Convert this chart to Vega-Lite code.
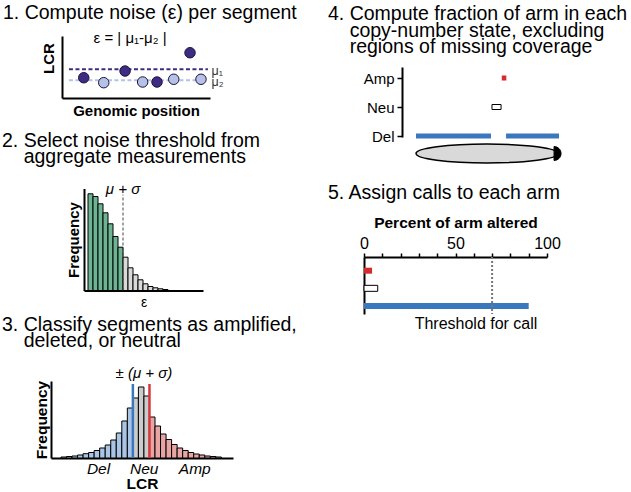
{
 "$schema": "https://vega.github.io/schema/vega-lite/v6.json",
 "padding": {"left": 2, "top": 3, "right": 0, "bottom": 0},
 "background": "white",
 "config": {
  "view": {"stroke": null},
  "font": "Liberation Sans",
  "title": {"font": "Liberation Sans", "fontSize": 19.5, "fontWeight": "normal", "color": "black", "anchor": "start", "frame": "group", "baseline": "bottom"},
  "axis": {"domainColor": "black", "tickColor": "black", "labelColor": "black", "titleColor": "black", "labelFont": "Liberation Sans", "titleFont": "Liberation Sans", "grid": false, "minExtent": 0},
  "text": {"font": "Liberation Sans", "color": "black"}
 },
 "datasets": {
  "p1pts": [
   {"pos": 14.7, "lcr": 3.27, "segment": "1"},
   {"pos": 42.6, "lcr": 4.35, "segment": "1"},
   {"pos": 64.2, "lcr": 2.58, "segment": "1"},
   {"pos": 86.5, "lcr": 7.3, "segment": "1"},
   {"pos": 28.2, "lcr": 2.47, "segment": "2"},
   {"pos": 54.5, "lcr": 2.58, "segment": "2"},
   {"pos": 75.5, "lcr": 3.02, "segment": "2"},
   {"pos": 93.9, "lcr": 3.02, "segment": "2"}
  ],
  "p1means": [
   {"segment": "1", "mean": 4.63, "start": 4.7, "end": 98.6, "label": "μ₁"},
   {"segment": "2", "mean": 2.85, "start": 4.7, "end": 96, "label": "μ₂"}
  ],
  "p2bins": [
   {"lo": 0.0, "hi": 0.1, "freq": 96.7, "side": "below"},
   {"lo": 0.1, "hi": 0.2, "freq": 94, "side": "below"},
   {"lo": 0.2, "hi": 0.3, "freq": 86.7, "side": "below"},
   {"lo": 0.3, "hi": 0.4, "freq": 77.7, "side": "below"},
   {"lo": 0.4, "hi": 0.5, "freq": 66.7, "side": "below"},
   {"lo": 0.5, "hi": 0.6, "freq": 54, "side": "below"},
   {"lo": 0.6, "hi": 0.7, "freq": 43.3, "side": "below"},
   {"lo": 0.7, "hi": 0.8, "freq": 33.3, "side": "above"},
   {"lo": 0.8, "hi": 0.9, "freq": 22.7, "side": "above"},
   {"lo": 0.9, "hi": 1.0, "freq": 15.7, "side": "above"},
   {"lo": 1.0, "hi": 1.1, "freq": 10.7, "side": "above"},
   {"lo": 1.1, "hi": 1.2, "freq": 6.7, "side": "above"},
   {"lo": 1.2, "hi": 1.3, "freq": 4, "side": "above"},
   {"lo": 1.3, "hi": 1.4, "freq": 2.7, "side": "above"},
   {"lo": 1.4, "hi": 1.5, "freq": 1.7, "side": "above"},
   {"lo": 1.5, "hi": 1.6, "freq": 1, "side": "above"}
  ],
  "p3bins": [
   {"lo": -1.45, "hi": -1.35, "freq": 1, "call": "Del"},
   {"lo": -1.35, "hi": -1.25, "freq": 1.5, "call": "Del"},
   {"lo": -1.25, "hi": -1.15, "freq": 2, "call": "Del"},
   {"lo": -1.15, "hi": -1.05, "freq": 3, "call": "Del"},
   {"lo": -1.05, "hi": -0.95, "freq": 4.3, "call": "Del"},
   {"lo": -0.95, "hi": -0.85, "freq": 5.5, "call": "Del"},
   {"lo": -0.85, "hi": -0.75, "freq": 7.5, "call": "Del"},
   {"lo": -0.75, "hi": -0.65, "freq": 10, "call": "Del"},
   {"lo": -0.65, "hi": -0.55, "freq": 13, "call": "Del"},
   {"lo": -0.55, "hi": -0.45, "freq": 18, "call": "Del"},
   {"lo": -0.45, "hi": -0.35, "freq": 25, "call": "Del"},
   {"lo": -0.35, "hi": -0.25, "freq": 37, "call": "Del"},
   {"lo": -0.25, "hi": -0.15, "freq": 50, "call": "Del"},
   {"lo": -0.15, "hi": -0.05, "freq": 60, "call": "Neu"},
   {"lo": -0.05, "hi": 0.05, "freq": 71, "call": "Neu"},
   {"lo": 0.05, "hi": 0.15, "freq": 62, "call": "Neu"},
   {"lo": 0.15, "hi": 0.25, "freq": 41, "call": "Amp"},
   {"lo": 0.25, "hi": 0.35, "freq": 32, "call": "Amp"},
   {"lo": 0.35, "hi": 0.45, "freq": 24, "call": "Amp"},
   {"lo": 0.45, "hi": 0.55, "freq": 18.5, "call": "Amp"},
   {"lo": 0.55, "hi": 0.65, "freq": 13.5, "call": "Amp"},
   {"lo": 0.65, "hi": 0.75, "freq": 10, "call": "Amp"},
   {"lo": 0.75, "hi": 0.85, "freq": 7.5, "call": "Amp"},
   {"lo": 0.85, "hi": 0.95, "freq": 5.5, "call": "Amp"},
   {"lo": 0.95, "hi": 1.05, "freq": 4, "call": "Amp"},
   {"lo": 1.05, "hi": 1.15, "freq": 3, "call": "Amp"},
   {"lo": 1.15, "hi": 1.25, "freq": 2, "call": "Amp"},
   {"lo": 1.25, "hi": 1.35, "freq": 1.5, "call": "Amp"},
   {"lo": 1.35, "hi": 1.45, "freq": 1, "call": "Amp"}
  ],
  "p3cuts": [
   {"call": "Del", "cut": -0.15},
   {"call": "Amp", "cut": 0.15}
  ],
  "p4segs": [
   {"state": "Del", "start": 0, "end": 52.8},
   {"state": "Del", "start": 63.4, "end": 100.7},
   {"state": "Neu", "start": 53.5, "end": 59.9},
   {"state": "Amp", "start": 60.4, "end": 63.6}
  ],
  "p5pct": [
   {"state": "Amp", "pct": 4.4},
   {"state": "Neu", "pct": 7.5},
   {"state": "Del", "pct": 90}
  ]
 },
 "bounds": "flush",
 "spacing": 313,
 "resolve": {"scale": {"color": "independent", "fill": "independent", "stroke": "independent"}},
 "hconcat": [
  {
   "bounds": "flush",
   "spacing": 90.5,
   "resolve": {"scale": {"color": "independent", "fill": "independent", "stroke": "independent"}},
   "vconcat": [
    {
     "width": 159, "height": 62,
     "title": {"text": "1. Compute noise (ε) per segment", "dx": -48, "offset": 7},
     "layer": [
      {
       "data": {"name": "p1means"},
       "mark": {"type": "rule", "strokeWidth": 2, "strokeDash": [4, 2.5]},
       "encoding": {
        "x": {"field": "start", "type": "quantitative", "scale": {"domain": [0, 100], "range": [11, 159], "nice": false, "zero": false},
              "axis": {"title": "Genomic position", "labels": false, "ticks": false, "domainWidth": 2, "titleFontSize": 15, "titleFontWeight": "bold", "titlePadding": 5}},
        "x2": {"field": "end"},
        "y": {"field": "mean", "type": "quantitative", "scale": {"domain": [0, 10], "nice": false},
              "axis": {"title": "LCR", "labels": false, "ticks": false, "domainWidth": 2, "offset": -11, "titleFontSize": 15, "titleFontWeight": "bold", "titlePadding": 6, "titleY": 22}},
        "color": {"field": "segment", "type": "nominal", "scale": {"domain": ["1", "2"], "range": ["#3d2c82", "#b5c1e6"]}, "legend": null}
       }
      },
      {
       "data": {"name": "p1means"},
       "mark": {"type": "text", "align": "left", "baseline": "middle", "dy": 2, "fontSize": 12.5, "color": "#333333"},
       "encoding": {
        "x": {"datum": 101},
        "y": {"field": "mean", "type": "quantitative"},
        "text": {"field": "label"}
       }
      },
      {
       "data": {"name": "p1pts"},
       "mark": {"type": "circle", "size": 110, "stroke": "#1c1440", "strokeWidth": 1, "opacity": 1},
       "encoding": {
        "x": {"field": "pos", "type": "quantitative"},
        "y": {"field": "lcr", "type": "quantitative"},
        "fill": {"field": "segment", "type": "nominal", "scale": {"domain": ["1", "2"], "range": ["#3d2c82", "#b5c1e6"]}, "legend": null}
       }
      },
      {
       "data": {"values": [{"note": "ε = | μ₁-μ₂ |"}]},
       "mark": {"type": "text", "fontSize": 15, "baseline": "middle"},
       "encoding": {
        "x": {"datum": 46},
        "y": {"datum": 9.7},
        "text": {"field": "note"}
       }
      }
     ]
    },
    {
     "width": 152, "height": 102,
     "title": {"text": ["2. Select noise threshold from", "\u200b\u00a0\u00a0\u00a0\u00a0aggregate measurements"], "dx": -49, "offset": 14.5, "lineHeight": 16},
     "layer": [
      {
       "data": {"name": "p2bins"},
       "mark": {"type": "rect", "stroke": "black", "strokeWidth": 1},
       "encoding": {
        "x": {"field": "lo", "type": "quantitative", "scale": {"domain": [-0.08, 2.3], "range": [33, 152], "nice": false, "zero": false},
              "axis": {"title": "ε", "labels": false, "ticks": false, "domainWidth": 2, "titleFontSize": 14, "titleFontWeight": "normal", "titlePadding": 5}},
        "x2": {"field": "hi"},
        "y": {"field": "freq", "type": "quantitative", "scale": {"domain": [0, 102], "nice": false},
              "axis": {"title": "Frequency", "labels": false, "ticks": false, "domainWidth": 2, "offset": -33, "titleFontSize": 15, "titleFontWeight": "bold", "titlePadding": 3}},
        "y2": {"datum": 0},
        "fill": {"field": "side", "type": "nominal", "scale": {"domain": ["below", "above"], "range": ["#6db592", "#d9d9d9"]}, "legend": null}
       }
      },
      {
       "data": {"values": [{"threshold": 0.7, "label": "μ + σ"}]},
       "mark": {"type": "rule", "strokeDash": [3, 2], "strokeWidth": 1, "color": "#444444"},
       "encoding": {
        "x": {"field": "threshold", "type": "quantitative"},
        "y": {"datum": 0},
        "y2": {"datum": 96}
       }
      },
      {
       "data": {"values": [{"threshold": 0.7, "label": "μ + σ"}]},
       "mark": {"type": "text", "fontSize": 15, "fontStyle": "italic", "baseline": "middle"},
       "encoding": {
        "x": {"field": "threshold", "type": "quantitative"},
        "y": {"datum": 101.5},
        "text": {"field": "label"}
       }
      }
     ]
    },
    {
     "width": 182, "height": 77,
     "title": {"text": ["3. Classify segments as amplified,", "\u200b\u00a0\u00a0\u00a0\u00a0deleted, or neutral"], "dx": -49, "offset": 14.5, "lineHeight": 16},
     "layer": [
      {
       "data": {"name": "p3bins"},
       "mark": {"type": "rect", "stroke": "black", "strokeWidth": 1},
       "encoding": {
        "x": {"field": "lo", "type": "quantitative", "scale": {"domain": [-1.63, 1.66], "nice": false, "zero": false},
              "axis": {"title": "LCR", "values": [-0.78, 0.045, 0.96], "labelExpr": "datum.value < -0.5 ? 'Del' : (datum.value > 0.5 ? 'Amp' : 'Neu')", "ticks": false, "labelFontStyle": "italic", "labelFontSize": 15.5, "labelPadding": 3, "labelFlush": false, "labelOverlap": false, "domainWidth": 2, "titleFontSize": 15.5, "titleFontWeight": "bold", "titlePadding": 0}},
        "x2": {"field": "hi"},
        "y": {"field": "freq", "type": "quantitative", "scale": {"domain": [0, 77], "nice": false},
              "axis": {"title": "Frequency", "labels": false, "ticks": false, "domainWidth": 2, "titleFontSize": 15.5, "titleFontWeight": "bold", "titlePadding": 2}},
        "y2": {"datum": 0},
        "fill": {"field": "call", "type": "nominal", "scale": {"domain": ["Del", "Neu", "Amp"], "range": ["#a9c4e4", "#cccccc", "#e9a4a4"]}, "legend": null}
       }
      },
      {
       "data": {"name": "p3cuts"},
       "mark": {"type": "rule", "strokeWidth": 2.5},
       "encoding": {
        "x": {"field": "cut", "type": "quantitative"},
        "y": {"datum": 0},
        "y2": {"datum": 74},
        "color": {"field": "call", "type": "nominal", "scale": {"domain": ["Del", "Amp"], "range": ["#3a78bd", "#d7383b"]}, "legend": null}
       }
      },
      {
       "data": {"values": [{"label": "± (μ + σ)"}]},
       "mark": {"type": "text", "fontSize": 15, "fontStyle": "italic", "baseline": "middle"},
       "encoding": {
        "x": {"datum": 0.05},
        "y": {"datum": 85},
        "text": {"field": "label"}
       }
      }
     ]
    }
   ]
  },
  {
   "bounds": "flush",
   "spacing": 90,
   "resolve": {"scale": {"color": "independent", "fill": "independent", "stroke": "independent"}},
   "vconcat": [
    {
     "width": 197, "height": 131,
     "title": {"text": ["4. Compute fraction of arm in each", "\u200b\u00a0\u00a0\u00a0\u00a0copy-number state, excluding", "\u200b\u00a0\u00a0\u00a0\u00a0regions of missing coverage"], "dx": -36, "offset": -21.8, "lineHeight": 16.5},
     "resolve": {"scale": {"y": "independent"}},
     "layer": [
      {
       "data": {"name": "p4segs"},
       "mark": {"type": "bar", "size": 5},
       "encoding": {
        "x": {"field": "start", "type": "quantitative", "scale": {"domain": [-36.6, 102.1], "nice": false, "zero": false}, "axis": null},
        "x2": {"field": "end"},
        "y": {"field": "state", "type": "nominal", "scale": {"type": "point", "domain": ["Amp", "Neu", "Del"], "range": [31, 101], "padding": 0.207, "align": 0.917},
              "axis": {"title": null, "offset": -38, "domainWidth": 2, "tickSize": 5, "tickWidth": 1.5, "labelFontSize": 15, "labelPadding": 3}},
        "fill": {"field": "state", "type": "nominal", "scale": {"domain": ["Amp", "Neu", "Del"], "range": ["#d52b30", "#ffffff", "#3a78bd"]}, "legend": null},
        "stroke": {"condition": {"test": "datum.state === 'Neu'", "value": "black"}, "value": null}
       }
      },
      {
       "data": {"values": [{"part": "arm"}]},
       "mark": {"type": "point", "shape": "M -1 0 C -1 -0.074 -0.552 -0.134 0 -0.134 C 0.552 -0.134 1 -0.074 1 0 C 1 0.074 0.552 0.134 0 0.134 C -0.552 0.134 -1 0.074 -1 0 Z", "size": 20164, "filled": true, "fill": "#d9d9d9", "stroke": "black", "strokeWidth": 1.5, "opacity": 1},
       "encoding": {
        "x": {"datum": 50},
        "y": {"datum": 0.103, "scale": {"domain": [0, 1]}, "axis": null}
       }
      },
      {
       "data": {"values": [{"part": "telomere"}]},
       "mark": {"type": "point", "shape": "M 0 -1 C 0.55 -1 1 -0.55 1 0 C 1 0.55 0.55 1 0 1 Z", "size": 196, "filled": true, "fill": "black", "stroke": "black", "strokeWidth": 1, "opacity": 1},
       "encoding": {
        "x": {"datum": 97.2},
        "y": {"datum": 0.103, "scale": {"domain": [0, 1]}, "axis": null}
       }
      }
     ]
    },
    {
     "width": 183, "height": 57,
     "title": {"text": "5. Assign calls to each arm", "dx": -36, "offset": 12},
     "layer": [
      {
       "data": {"name": "p5pct"},
       "mark": {"type": "bar", "size": 6},
       "encoding": {
        "x": {"field": "pct", "type": "quantitative", "scale": {"domain": [0, 100], "nice": false},
              "axis": {"orient": "top", "title": "Percent of arm altered", "values": [0, 10, 20, 30, 40, 50, 60, 70, 80, 90, 100], "labelExpr": "(datum.value == 0 || datum.value == 50 || datum.value == 100) ? datum.label : ''", "labelOverlap": false, "labelBound": false, "tickSize": 4, "tickWidth": 1.5, "domainWidth": 2, "labelFontSize": 16, "labelPadding": 2, "labelFlush": false, "titleFontSize": 15.5, "titleFontWeight": "bold", "titlePadding": 5}},
        "y": {"field": "state", "type": "nominal", "scale": {"domain": ["Amp", "Neu", "Del"], "paddingInner": 0.5, "paddingOuter": 0.365, "align": 0.72},
              "axis": {"title": null, "labels": false, "ticks": false, "domainWidth": 2}},
        "fill": {"field": "state", "type": "nominal", "scale": {"domain": ["Amp", "Neu", "Del"], "range": ["#d52b30", "#ffffff", "#3a78bd"]}, "legend": null},
        "stroke": {"condition": {"test": "datum.state === 'Neu'", "value": "black"}, "value": null}
       }
      },
      {
       "data": {"values": [{"threshold": 70, "label": "Threshold for call"}]},
       "mark": {"type": "rule", "strokeDash": [2, 2], "strokeWidth": 2, "color": "#777777"},
       "encoding": {
        "x": {"field": "threshold", "type": "quantitative",
              "axis": {"orient": "top", "title": "Percent of arm altered", "values": [0, 10, 20, 30, 40, 50, 60, 70, 80, 90, 100], "labelExpr": "(datum.value == 0 || datum.value == 50 || datum.value == 100) ? datum.label : ''", "labelOverlap": false, "labelBound": false, "tickSize": 4, "tickWidth": 1.5, "domainWidth": 2, "labelFontSize": 16, "labelPadding": 2, "labelFlush": false, "titleFontSize": 15.5, "titleFontWeight": "bold", "titlePadding": 5}}
       }
      },
      {
       "data": {"values": [{"threshold": 70, "label": "Threshold for call"}]},
       "mark": {"type": "text", "fontSize": 16, "dy": 18, "baseline": "middle"},
       "encoding": {
        "x": {"datum": 61.2,
              "axis": {"orient": "top", "title": "Percent of arm altered", "values": [0, 10, 20, 30, 40, 50, 60, 70, 80, 90, 100], "labelExpr": "(datum.value == 0 || datum.value == 50 || datum.value == 100) ? datum.label : ''", "labelOverlap": false, "labelBound": false, "tickSize": 4, "tickWidth": 1.5, "domainWidth": 2, "labelFontSize": 16, "labelPadding": 2, "labelFlush": false, "titleFontSize": 15.5, "titleFontWeight": "bold", "titlePadding": 5}},
        "y": {"datum": "Del"},
        "text": {"field": "label"}
       }
      }
     ]
    }
   ]
  }
 ]
}
